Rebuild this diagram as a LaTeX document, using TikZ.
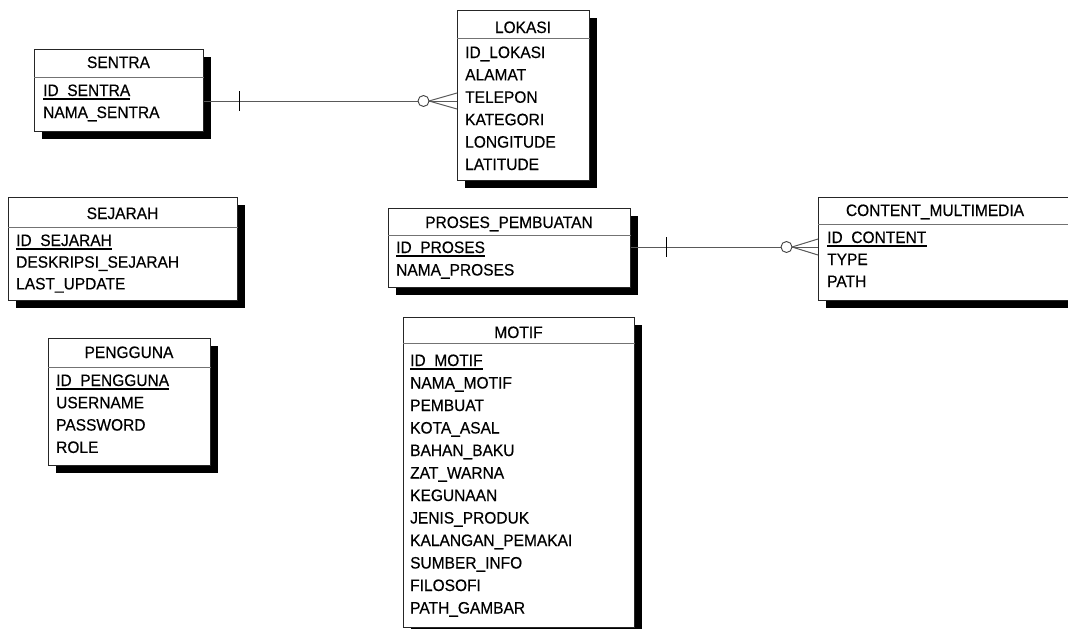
\documentclass[tikz,border=0pt]{standalone}
\usepackage{fontspec}
\setmainfont{Liberation Sans}[FakeStretch=0.94, FakeBold=0.4]
\usetikzlibrary{shadows,calc}
\begin{document}
\begin{tikzpicture}[x=1pt,y=-1pt,
  every node/.style={font=\fontsize{16.5}{19}\selectfont, inner sep=0pt},
  ent/.style={draw=black!85, line width=1pt, fill=white, anchor=north west,
    drop shadow={shadow xshift=7pt, shadow yshift=-7pt, fill=black, opacity=1}},
  sep/.style={draw=black!55, line width=1pt},
  hdr/.style={anchor=base},
  attr/.style={anchor=base west},
  ul/.style={line width=1.2pt, black},
  conn/.style={draw=black!65, line width=1pt},
  tick/.style={draw=black, line width=1pt},
  ring/.style={draw=black!75, fill=white, line width=0.9pt}
]
\useasboundingbox (0,0) rectangle (1068,629);
\clip (0,0) rectangle (1068,629);

% ---------- SENTRA ----------
\node[ent, minimum width=169pt, minimum height=82pt] (sentra) at (34,49) {};
\draw[sep] ([yshift=-28pt]sentra.north west) -- ([yshift=-28pt]sentra.north east);
\node[hdr] (sentra-t) at (118.5,68) {SENTRA};
\foreach \t [count=\i] in {ID\_SENTRA, NAMA\_SENTRA}
  \node[attr] (sentra-\i) at (43,{96+(\i-1)*22}) {\t};
\draw[ul] ([yshift=-3pt]sentra-1.base west) -- ([yshift=-3pt]sentra-1.base east);

% ---------- LOKASI ----------
\node[ent, minimum width=132pt, minimum height=170pt] (lokasi) at (457,10) {};
\draw[sep] ([yshift=-28pt]lokasi.north west) -- ([yshift=-28pt]lokasi.north east);
\node[hdr] (lokasi-t) at (523,33) {LOKASI};
\foreach \t [count=\i] in {ID\_LOKASI, ALAMAT, TELEPON, KATEGORI, LONGITUDE, LATITUDE}
  \node[attr] (lokasi-\i) at (465,{58+(\i-1)*22.4}) {\t};

% ---------- SEJARAH ----------
\node[ent, minimum width=229pt, minimum height=103pt] (sejarah) at (8,197) {};
\draw[sep] ([yshift=-30pt]sejarah.north west) -- ([yshift=-30pt]sejarah.north east);
\node[hdr] (sejarah-t) at (122.5,219) {SEJARAH};
\foreach \t [count=\i] in {ID\_SEJARAH, DESKRIPSI\_SEJARAH, LAST\_UPDATE}
  \node[attr] (sejarah-\i) at (16,{246+(\i-1)*21.7}) {\t};
\draw[ul] ([yshift=-3pt]sejarah-1.base west) -- ([yshift=-3pt]sejarah-1.base east);

% ---------- PENGGUNA ----------
\node[ent, minimum width=162pt, minimum height=127pt] (pengguna) at (48,338) {};
\draw[sep] ([yshift=-29pt]pengguna.north west) -- ([yshift=-29pt]pengguna.north east);
\node[hdr] (pengguna-t) at (129,358) {PENGGUNA};
\foreach \t [count=\i] in {ID\_PENGGUNA, USERNAME, PASSWORD, ROLE}
  \node[attr] (pengguna-\i) at (56,{386+(\i-1)*22.3}) {\t};
\draw[ul] ([yshift=-3pt]pengguna-1.base west) -- ([yshift=-3pt]pengguna-1.base east);

% ---------- PROSES_PEMBUATAN ----------
\node[ent, minimum width=242pt, minimum height=79pt] (proses) at (388,208) {};
\draw[sep] ([yshift=-27pt]proses.north west) -- ([yshift=-27pt]proses.north east);
\node[hdr] (proses-t) at (509,228) {PROSES\_PEMBUATAN};
\foreach \t [count=\i] in {ID\_PROSES, NAMA\_PROSES}
  \node[attr] (proses-\i) at (396,{253+(\i-1)*22.5}) {\t};
\draw[ul] ([yshift=-3pt]proses-1.base west) -- ([yshift=-3pt]proses-1.base east);

% ---------- CONTENT_MULTIMEDIA ----------
\node[ent, minimum width=267pt, minimum height=103pt] (content) at (818,197) {};
\draw[sep] ([yshift=-27pt]content.north west) -- ([yshift=-27pt]content.north east);
\node[hdr] (content-t) at (935,216) {CONTENT\_MULTIMEDIA};
\foreach \t [count=\i] in {ID\_CONTENT, TYPE, PATH}
  \node[attr] (content-\i) at (827,{243+(\i-1)*22}) {\t};
\draw[ul] ([yshift=-3pt]content-1.base west) -- ([yshift=-3pt]content-1.base east);

% ---------- MOTIF ----------
\node[ent, minimum width=231pt, minimum height=310pt] (motif) at (403,317) {};
\draw[sep] ([yshift=-26pt]motif.north west) -- ([yshift=-26pt]motif.north east);
\node[hdr] (motif-t) at (518.5,338) {MOTIF};
\foreach \t [count=\i] in {ID\_MOTIF, NAMA\_MOTIF, PEMBUAT, KOTA\_ASAL, BAHAN\_BAKU, ZAT\_WARNA, KEGUNAAN, JENIS\_PRODUK, KALANGAN\_PEMAKAI, SUMBER\_INFO, FILOSOFI, PATH\_GAMBAR}
  \node[attr] (motif-\i) at (410,{366+(\i-1)*22.5}) {\t};
\draw[ul] ([yshift=-3pt]motif-1.base west) -- ([yshift=-3pt]motif-1.base east);

% ---------- Relationship SENTRA -- LOKASI ----------
\coordinate (y1) at (0,101);
\coordinate (r1a) at (sentra.east |- y1);
\coordinate (r1b) at (lokasi.west |- y1);
\draw[conn] (r1a) -- (r1b);
\draw[tick] ($(r1a)+(35,-10)$) -- ($(r1a)+(35,10)$);
\draw[conn] ($(r1b)+(-28,0)$) -- ($(r1b)+(0,-8)$);
\draw[conn] ($(r1b)+(-28,0)$) -- ($(r1b)+(0,8)$);
\draw[ring] ($(r1b)+(-33.5,0)$) circle[radius=5.5pt];

% ---------- Relationship PROSES -- CONTENT ----------
\coordinate (y2) at (0,247);
\coordinate (r2a) at (proses.east |- y2);
\coordinate (r2b) at (content.west |- y2);
\draw[conn] (r2a) -- (r2b);
\draw[tick] ($(r2a)+(35,-10)$) -- ($(r2a)+(35,10)$);
\draw[conn] ($(r2b)+(-26,0)$) -- ($(r2b)+(0,-8)$);
\draw[conn] ($(r2b)+(-26,0)$) -- ($(r2b)+(0,8)$);
\draw[ring] ($(r2b)+(-31.5,0)$) circle[radius=5.5pt];
\end{tikzpicture}
\end{document}
